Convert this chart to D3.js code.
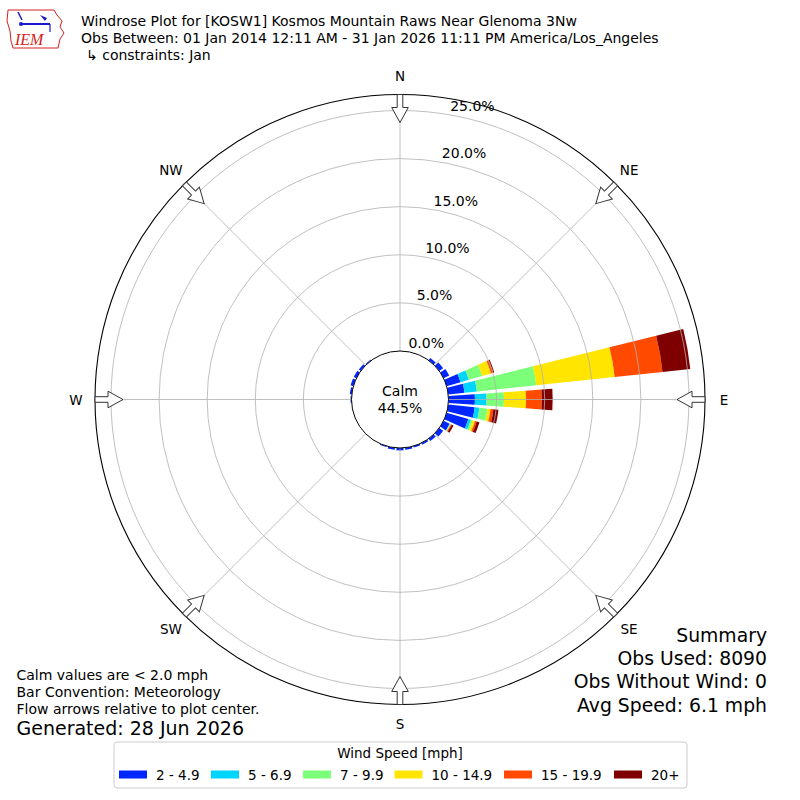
<!DOCTYPE html>
<html>
<head>
<meta charset="utf-8">
<script src="https://cdn.jsdelivr.net/npm/d3@7"></script>
<style>
  body { margin: 0; background: #fff; }
  text { font-family: "DejaVu Sans", sans-serif; fill: #000; }
</style>
</head>
<body>
<div id="container"></div>
<script>
// directions (deg, meteorological) and speed bins
const directions = [0, 10, 20, 30, 40, 50, 60, 70, 80, 90, 100, 110, 120, 130, 140, 150, 160, 170,
  180, 190, 200, 210, 220, 230, 240, 250, 260, 270, 280, 290, 300, 310, 320, 330, 340, 350];
const speedBins = ["2 - 4.9", "5 - 6.9", "7 - 9.9", "10 - 14.9", "15 - 19.9", "20+"];
const binColors = ["#0026ff", "#00d5ff", "#7cff79", "#ffe500", "#ff4a00", "#7f0000"];

// percent of obs per direction, one array per speed bin
const s2to5 = [0, 0, 0, 0, 0.3, 0.5, 0.65, 1.5, 1.7, 2.75, 2.77, 2.34, 0.7, 0.5, 0.3, 0.2, 0.15, 0.2,
  0.25, 0.2, 0.1, 0, 0, 0, 0, 0, 0, 0.1, 0.2, 0.3, 0.3, 0.25, 0.1, 0, 0, 0];
const s5to7 = [0, 0, 0, 0, 0, 0, 0, 0.9, 1.3, 1.2, 0.49, 0.28, 0.05, 0, 0, 0, 0, 0,
  0, 0, 0, 0, 0, 0, 0, 0, 0, 0, 0, 0, 0, 0, 0, 0, 0, 0];
const s7to10 = [0, 0, 0, 0, 0, 0, 0, 1.45, 6.2, 1.82, 0.84, 0.19, 0.05, 0, 0, 0, 0, 0,
  0, 0, 0, 0, 0, 0, 0, 0, 0, 0, 0, 0, 0, 0, 0, 0, 0, 0];
const s10to15 = [0, 0, 0, 0, 0, 0, 0, 0.95, 8.2, 2.29, 0.32, 0.26, 0.05, 0, 0, 0, 0, 0,
  0, 0, 0, 0, 0, 0, 0, 0, 0, 0, 0, 0, 0, 0, 0, 0, 0, 0];
const s15to20 = [0, 0, 0, 0, 0, 0, 0, 0.25, 5.0, 1.64, 0.3, 0.18, 0.1, 0, 0, 0, 0, 0,
  0, 0, 0, 0, 0, 0, 0, 0, 0, 0, 0, 0, 0, 0, 0, 0, 0, 0];
const s20plus = [0, 0, 0, 0, 0, 0, 0, 0.1, 2.9, 1.13, 0.53, 0.3, 0.2, 0, 0, 0, 0, 0,
  0, 0, 0, 0, 0, 0, 0, 0, 0, 0, 0, 0, 0, 0, 0, 0, 0, 0];

const ringTicks = [0, 5, 10, 15, 20, 25];
const compass = ["N", "NE", "E", "SE", "S", "SW", "W", "NW"];
const calmPct = "44.5%";

const titleLines = [
  "Windrose Plot for [KOSW1] Kosmos Mountain Raws Near Glenoma 3Nw",
  "Obs Between: 01 Jan 2014 12:11 AM - 31 Jan 2026 11:11 PM America/Los_Angeles",
  "↳ constraints: Jan"
];
const noteLines = ["Calm values are < 2.0 mph", "Bar Convention: Meteorology", "Flow arrows relative to plot center."];
const summaryLines = ["Summary", "Obs Used: 8090", "Obs Without Wind: 0", "Avg Speed: 6.1 mph"];

const width = 800, height = 800;
const cx = 400, cy = 399.5;
const outerR = 305;

const svg = d3.select("#container").append("svg")
  .attr("width", width).attr("height", height);

// echelle radiale : 0% = bord du cercle calme
const r = d3.scaleLinear().domain([0, 25]).range([48.5, 289]);
const rad = (deg) => deg * Math.PI / 180;

const series = [s2to5, s5to7, s7to10, s10to15, s15to20, s20plus];
const rows = directions.map((d, i) => {
  const row = { dir: d };
  speedBins.forEach((k, j) => (row[k] = series[j][i]));
  return row;
});
const stacked = d3.stack().keys(speedBins)(rows);

const g = svg.append("g").attr("transform", `translate(${cx},${cy})`);

// bars (drawn first, grid on top like the original)
const arcGen = d3.arc();
stacked.forEach((layer, j) => {
  g.append("g").selectAll("path")
    .data(layer.filter((d) => d[1] - d[0] > 0))
    .join("path")
    .attr("fill", binColors[j])
    .attr("d", (d) => arcGen({
      innerRadius: r(d[0]),
      outerRadius: r(d[1]),
      startAngle: rad(d.data.dir - 4),
      endAngle: rad(d.data.dir + 4)
    }));
});

// grid
g.selectAll("circle.ring")
  .data(ringTicks.slice(1))
  .join("circle")
  .attr("class", "ring")
  .attr("r", (d) => r(d))
  .attr("fill", "none")
  .attr("stroke", "#b0b0b0")
  .attr("stroke-width", 0.8);

compass.forEach((c, i) => {
  const a = rad(i * 45);
  g.append("line")
    .attr("x1", r(0) * Math.sin(a)).attr("y1", -r(0) * Math.cos(a))
    .attr("x2", outerR * Math.sin(a)).attr("y2", -outerR * Math.cos(a))
    .attr("stroke", "#b0b0b0").attr("stroke-width", 0.8);
});

// calm circle
g.append("circle").attr("r", r(0)).attr("fill", "#fff").attr("stroke", "#000").attr("stroke-width", 1);
g.append("text").attr("text-anchor", "middle").attr("y", -3.5).style("font-size", "14px").text("Calm");
g.append("text").attr("text-anchor", "middle").attr("y", 13).style("font-size", "14px").text(calmPct);

// outer frame
g.append("circle").attr("r", outerR).attr("fill", "none").attr("stroke", "#000").attr("stroke-width", 1.1);

// flow arrows
const arrowPts = [[0, -277], [8.3, -292], [2.8, -292], [2.8, -305], [-2.8, -305], [-2.8, -292], [-8.3, -292]];
compass.forEach((c, i) => {
  g.append("path")
    .attr("d", d3.line()(arrowPts) + "Z")
    .attr("transform", `rotate(${i * 45})`)
    .attr("fill", "#fff")
    .attr("stroke", "#333")
    .attr("stroke-width", 1);
  const a = rad(i * 45);
  g.append("text")
    .attr("x", 324 * Math.sin(a))
    .attr("y", -324 * Math.cos(a) + 5)
    .attr("text-anchor", "middle")
    .style("font-size", "13.5px")
    .text(c);
});

// ring labels
const labA = rad(10);
g.selectAll("text.rlab")
  .data(ringTicks)
  .join("text")
  .attr("class", "rlab")
  .attr("x", (d) => r(d) * Math.sin(labA))
  .attr("y", (d) => -r(d) * Math.cos(labA) - 4)
  .style("font-size", "14px")
  .text((d) => d3.format(".1f")(d) + "%");

// titre
svg.selectAll("text.title")
  .data(titleLines)
  .join("text")
  .attr("class", "title")
  .attr("x", (d, i) => (i === 2 ? 86 : 81))
  .attr("y", (d, i) => 26 + i * 17)
  .style("font-size", "14px")
  .text((d) => d);

// logo IEM (simplifié)
const logo = svg.append("g");
logo.append("path")
  .attr("d", "M8,10 L54,10 L57,15 L62,21 L60,27 L64,33 L60,39 L58,48 L13,48 L11,41 L10,31 L7,21 Z")
  .attr("fill", "#fff").attr("stroke", "#d42020").attr("stroke-width", 1);
logo.append("line").attr("x1", 22).attr("y1", 24).attr("x2", 50).attr("y2", 24)
  .attr("stroke", "#1a1ad0").attr("stroke-width", 2);
logo.append("path").attr("d", "M40,15 L47,18 L45,21 Z").attr("fill", "#1a1ad0");
logo.append("path").attr("d", "M18,12 L22,20").attr("stroke", "#1a1ad0").attr("stroke-width", 1.5);
logo.append("circle").attr("cx", 21).attr("cy", 24).attr("r", 2).attr("fill", "#1a1ad0");
logo.append("path").attr("d", "M50,24 L50,32").attr("stroke", "#1a1ad0").attr("stroke-width", 1.2);
logo.append("text").attr("x", 15).attr("y", 45)
  .style("font-family", "Liberation Serif, serif").style("font-style", "italic")
  .style("font-size", "16px").style("fill", "#d42020").text("IEM");

// notes bas gauche
svg.selectAll("text.note")
  .data(noteLines)
  .join("text")
  .attr("class", "note")
  .attr("x", 16.5)
  .attr("y", (d, i) => 680 + i * 17.2)
  .style("font-size", "14px")
  .text((d) => d);
svg.append("text").attr("x", 16.5).attr("y", 734.5).style("font-size", "19px").text("Generated: 28 Jun 2026");

// resume
svg.selectAll("text.summary")
  .data(summaryLines)
  .join("text")
  .attr("class", "summary")
  .attr("x", 767)
  .attr("y", (d, i) => 641.5 + i * 23.4)
  .attr("text-anchor", "end")
  .style("font-size", "18.8px")
  .text((d) => d);

// legende
const leg = svg.append("g");
leg.append("rect").attr("x", 114).attr("y", 742).attr("width", 573).attr("height", 46).attr("rx", 3)
  .attr("fill", "#fff").attr("stroke", "#cccccc").attr("stroke-width", 1);
leg.append("text").attr("x", 400).attr("y", 758).attr("text-anchor", "middle")
  .style("font-size", "13.5px").text("Wind Speed [mph]");
const swatchX = [119, 211, 303, 394.5, 504, 614];
speedBins.forEach((b, i) => {
  leg.append("rect").attr("x", swatchX[i]).attr("y", 770.5).attr("width", 28).attr("height", 8).attr("fill", binColors[i]);
  leg.append("text").attr("x", swatchX[i] + 37).attr("y", 779.5).style("font-size", "13.5px").text(b);
});
</script>
</body>
</html>
